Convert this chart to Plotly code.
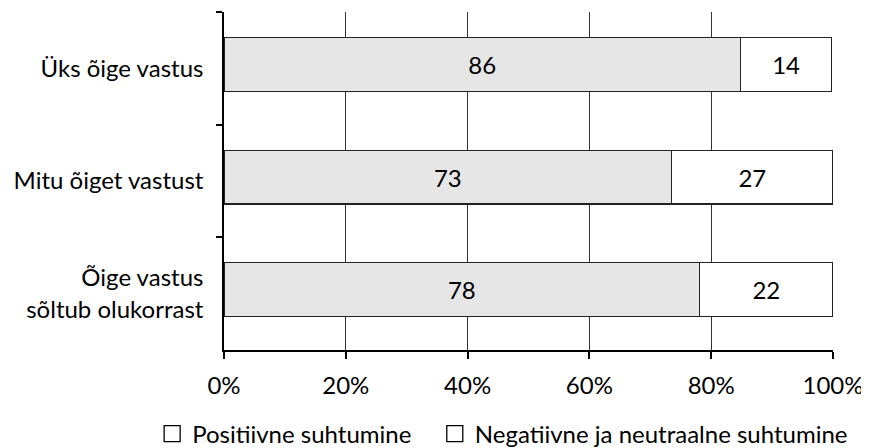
import plotly.graph_objects as go

categories = ["Üks õige vastus", "Mitu õiget vastust", "Õige vastus<br>sõltub olukorrast"]
positive = [84.8, 73.5, 78.1]
negative = [15.0, 26.5, 21.9]
positive_labels = ["86", "73", "78"]
negative_labels = ["14", "27", "22"]
series_names = ["Positiivne suhtumine", "Negatiivne ja neutraalne suhtumine"]
x_ticks = [0, 20, 40, 60, 80, 100]
x_tick_labels = ["0%", "20%", "40%", "60%", "80%", "100%"]

FONT = "Lato, Open Sans, sans-serif"
FS = 24
bar_w = 0.478
bar_off = -0.239 - 0.035

fig = go.Figure()
fig.add_trace(go.Bar(
    y=categories, x=positive, orientation="h", name=series_names[0], showlegend=False,
    marker=dict(color="#e6e6e6", line=dict(color="#222222", width=1.2)),
    text=positive_labels, textposition="inside", insidetextanchor="middle",
    textangle=0, constraintext="none", textfont=dict(color="black", size=FS, family=FONT),
    width=bar_w, offset=bar_off,
))
fig.add_trace(go.Bar(
    y=categories, x=negative, orientation="h", name=series_names[1], showlegend=False,
    marker=dict(color="white", line=dict(color="#222222", width=1.2)),
    text=negative_labels, textposition="inside", insidetextanchor="middle",
    textangle=0, constraintext="none", textfont=dict(color="black", size=FS, family=FONT),
    width=bar_w, offset=bar_off,
))
# legend entries (open squares as in the reference)
legend_pad = ["\u00a0\u00a0\u00a0", ""]
for name, pad in zip(series_names, legend_pad):
    fig.add_trace(go.Scatter(
        x=[None], y=[None], mode="markers", name=name + pad,
        marker=dict(symbol="square-open", size=16, color="black", line=dict(width=1.3)),
    ))

# the page body adds an 8px offset; compensate so the plot lands where the reference has it
fig.update_layout(
    width=861, height=440,
    margin=dict(l=216, r=36, t=4, b=98, autoexpand=False),
    barmode="stack",
    plot_bgcolor="white", paper_bgcolor="white",
    font=dict(family=FONT, size=FS, color="black"),
    legend=dict(orientation="h", x=-0.118, xanchor="left", y=-0.2485, yanchor="middle",
                font=dict(size=FS, family=FONT), traceorder="normal", itemsizing="trace"),
)
fig.update_xaxes(
    range=[0, 100], tickvals=x_ticks, ticktext=x_tick_labels,
    showgrid=True, gridcolor="#333333", gridwidth=1,
    showline=True, linecolor="black", linewidth=1.5,
    ticks="outside", ticklen=7, tickcolor="black", tickwidth=1.5,
    zeroline=False, tickfont=dict(size=FS, family=FONT), ticklabelstandoff=6,
    automargin=False,
)
fig.update_yaxes(
    type="category", categoryorder="array", categoryarray=categories,
    range=[2.5, -0.5],
    tickson="boundaries", ticks="outside", ticklen=6, tickcolor="black", tickwidth=1.5,
    showline=True, linecolor="black", linewidth=1.5,
    showgrid=False, tickfont=dict(size=FS, family=FONT), ticklabelstandoff=14,
    automargin=False,
)

fig.write_html("out.html")
